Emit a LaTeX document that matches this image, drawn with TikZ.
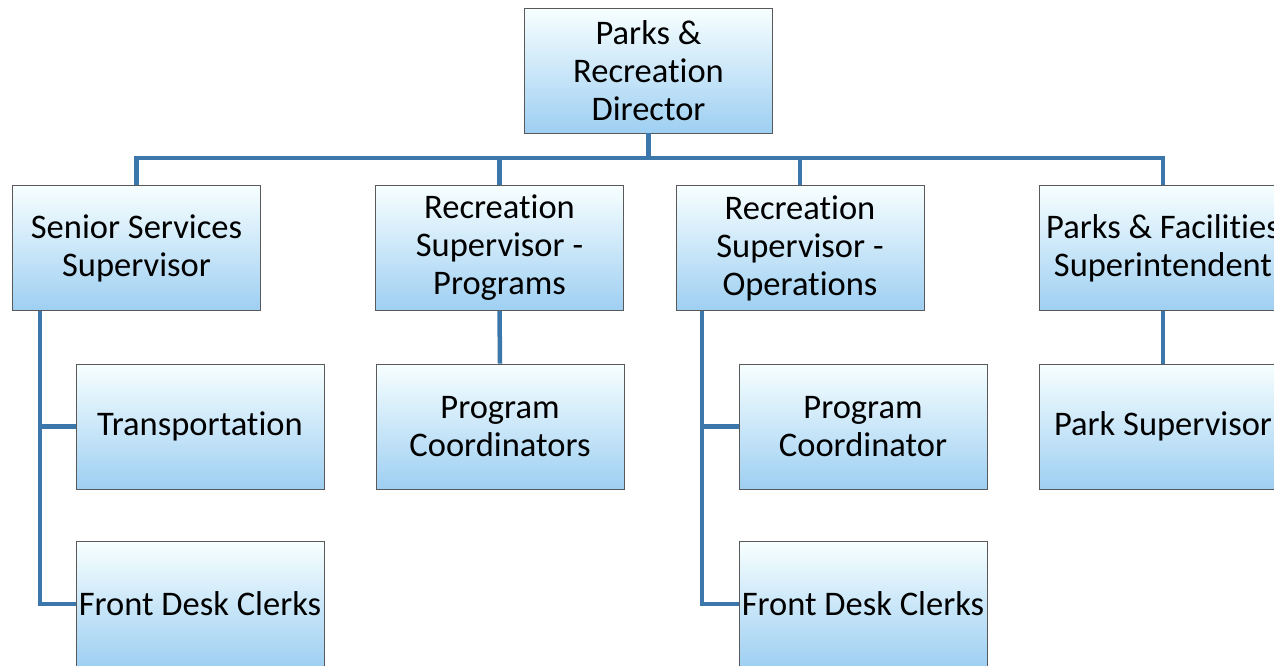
\documentclass[tikz,border=0pt]{standalone}
\usepackage{fontspec}
\setmainfont[Ligatures=NoCommon]{Carlito}
\begin{document}
\begin{tikzpicture}[x=1pt,y=1pt,
  box/.style={draw=black!65, line width=0.8pt, top color=blue!2!cyan!3, bottom color=boxblue,
    minimum width=248pt, minimum height=125pt, inner sep=0pt, align=center,
    font=\fontsize{34.5}{38}\selectfont, text=black},
  conn/.style={draw=linkblue, line width=4.5pt}]
\definecolor{boxblue}{HTML}{9ECFF2}
\definecolor{linkblue}{HTML}{3B77AB}
\useasboundingbox (0,0) rectangle (1274,-665);
\clip (0,0) rectangle (1274,-665);
\fill[white] (0,0) rectangle (1274,-665);
% nodes
\node[box] (dir) at (648.5,-70.5) {Parks \&\\Recreation\\Director};
\node[box] (sen) at (136.5,-248) {Senior Services\\Supervisor};
\node[box] (rpr) at (499.5,-248) {Recreation\\Supervisor -\\Programs};
\node[box] (rop) at (800,-248) {Recreation\\Supervisor -\\Operations};
\node[box] (pfs) at (1163,-248) {Parks \& Facilities\\Superintendent};
\node[box] (trn) at (200,-426.5) {Transportation};
\node[box] (pcs) at (500,-426.5) {Program\\Coordinators};
\node[box] (pco) at (863,-426.5) {Program\\Coordinator};
\node[box] (psv) at (1163,-426.5) {Park Supervisor};
\node[box] (fd1) at (200,-604) {Front Desk Clerks};
\node[box] (fd2) at (863,-604) {Front Desk Clerks};
% connectors
\coordinate (bus) at (648.5,-158);
\draw[conn] (dir.south) -- (bus) -| (sen.north);
\draw[conn] (bus) -| (rpr.north);
\draw[conn] (bus) -| (rop.north);
\draw[conn] (bus) -| (pfs.north);
\draw[conn] (rpr.south) -- (pcs.north);
\draw[conn] (pfs.south) -- (psv.north);
\draw[conn] ([xshift=-96.5pt]sen.south) |- (trn.west);
\draw[conn] ([xshift=-96.5pt]sen.south) |- (fd1.west);
\draw[conn] ([xshift=-98pt]rop.south) |- (pco.west);
\draw[conn] ([xshift=-98pt]rop.south) |- (fd2.west);
\end{tikzpicture}
\end{document}
